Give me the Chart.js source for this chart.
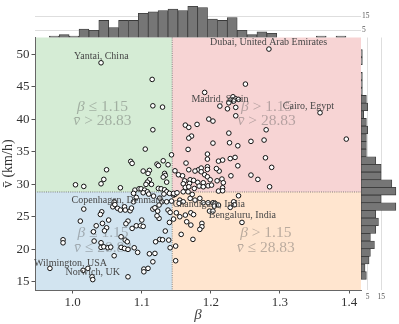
<!DOCTYPE html>
<html><head><meta charset="utf-8">
<script src="https://cdn.jsdelivr.net/npm/chart.js@4.4.1/dist/chart.umd.min.js"></script>
<style>
html,body{margin:0;padding:0;background:#fff;}
#wrap{position:relative;width:399px;height:324px;overflow:hidden;}
#wrap canvas{position:absolute;left:0;top:0;}
</style></head><body>
<div id="wrap">
<canvas id="main" width="399" height="324"></canvas>
<canvas id="topH" width="399" height="324"></canvas>
<canvas id="rightH" width="399" height="324"></canvas>
</div>
<script>
// ---------------- data ----------------
const beta = [
1.041,1.115,1.116,1.130,1.116,1.284,1.250,1.191,1.232,1.236,1.228,1.233,1.240,1.226,1.213,1.224,1.236,1.236,1.358,1.197,
1.203,1.163,1.168,1.180,1.280,1.226,1.172,1.168,1.396,1.258,1.277,1.203,1.227,1.239,1.105,1.167,1.143,1.195,1.195,1.164,
1.228,1.235,1.211,1.217,1.279,1.239,1.288,1.084,1.086,1.049,1.102,1.111,1.109,1.122,1.124,1.131,1.138,1.045,1.041,1.004,
1.016,1.111,1.108,1.114,1.106,1.069,1.090,1.096,1.099,1.104,1.108,1.133,1.134,1.131,1.136,1.124,1.128,1.133,1.136,1.140,
1.146,1.148,
1.148,1.153,1.159,1.168,1.182,1.186,1.195,1.195,1.177,1.186,1.191,1.212,1.208,1.258,1.268,1.229,1.195,1.162,1.160,1.170,
1.169,1.175,1.176,1.181,1.189,1.199,1.209,1.217,1.211,1.217,1.163,1.168,1.183,1.189,1.196,1.201,1.216,1.218,1.285,1.160,
1.167,1.173,
1.016,1.011,1.034,1.043,1.049,1.046,1.052,1.030,1.031,1.041,1.041,1.045,1.051,1.055,1.060,1.070,1.075,1.080,1.070,1.076,
1.079,1.058,1.065,1.069,1.075,1.060,1.061,0.986,0.986,0.967,1.015,1.022,1.028,1.029,1.080,1.083,1.085,1.080,1.077,1.086,
1.092,1.098,1.102,1.100,1.089,1.094,1.111,1.119,1.116,1.103,1.109,1.103,1.116,1.119,1.123,1.125,1.122,1.129,1.125,1.136,
1.138,1.141,1.140,1.134,1.126,1.120,1.130,1.139,1.141,1.088,1.092,1.088,1.102,1.110,1.117,1.126,1.132,1.042,1.040,1.076,
1.146,1.151,1.155,1.154,1.160,1.170,1.177,1.184,1.189,1.196,1.203,1.206,1.211,1.233,1.240,1.228,1.234,1.198,1.203,1.205,
1.150,1.146,1.155,1.163,1.171,1.175,1.187,1.187,1.184,1.171,1.157,1.174,1.245,1.149,1.149,1.143,1.165
];
const speed = [
48.71,46.15,42.09,41.89,38.40,50.82,45.43,44.15,43.48,43.17,42.97,42.82,43.08,42.55,42.05,41.63,41.85,40.55,41.02,40.05,
39.74,39.12,38.77,39.23,38.40,37.89,37.43,37.12,36.97,36.62,36.82,36.35,36.40,35.94,35.43,35.38,34.55,34.66,33.89,33.28,
33.97,34.15,33.58,33.74,34.09,32.86,32.62,33.54,33.23,32.25,32.05,32.15,31.69,33.12,32.89,33.63,33.02,30.77,30.09,29.94,
29.69,30.71,30.35,30.00,30.00,29.48,29.12,29.32,29.32,29.12,28.86,31.69,31.38,31.12,30.35,29.38,29.32,29.17,28.86,28.62,
28.35,28.46,
32.09,31.48,31.32,32.25,32.25,32.51,32.71,32.31,32.05,31.94,31.48,32.05,32.43,31.43,30.77,31.32,31.17,30.55,30.09,30.71,
30.15,30.62,29.38,30.31,30.25,30.71,30.55,29.48,28.97,29.02,29.54,29.63,29.74,29.63,29.78,29.89,30.82,30.25,29.63,28.86,
28.86,28.46,
26.20,24.35,23.63,24.00,23.32,22.86,24.51,22.71,21.28,21.02,20.31,20.40,20.25,20.35,19.02,20.31,20.15,20.00,21.94,21.43,
21.17,26.55,26.31,26.05,26.55,27.32,26.89,21.48,21.01,17.08,16.77,17.08,15.78,15.35,15.78,25.94,26.35,24.35,23.94,23.23,
23.63,23.63,23.54,24.51,20.25,19.54,19.32,19.38,18.09,16.97,17.08,16.55,26.20,26.40,25.89,24.77,25.17,27.32,26.82,27.32,
26.05,25.69,24.15,22.82,21.54,21.17,21.48,21.43,20.25,28.62,28.00,27.32,28.71,28.51,28.20,27.89,28.51,25.78,25.38,26.05,
28.62,28.71,27.58,27.08,27.32,27.85,27.58,27.85,27.17,27.17,27.17,27.08,26.82,27.32,28.25,26.46,26.86,25.89,25.89,26.66,
25.63,24.66,25.02,25.28,25.63,25.35,24.00,23.48,23.08,23.74,22.31,21.54,24.15,20.51,18.25,27.43,24.25
];

// histogram counts
const betaHistStart = 0.9662, betaHistWidth = 0.01431;
const betaHistCounts = [1,2,1,6,5,12,7,12,12,17,18,19,20,19,22,21,13,12,14,5,2,4,3,0,0,0,0,1,0,1];
const speedHistStart = 15.39, speedHistWidth = 1.179;
// listed from lowest speed bin upwards
const speedHistCounts = [4,3,6,7,10,7,11,13,11,26,15,26,23,15,15,11,4,4,4,5,4,2,5,4,1,1,1,0,1,1];

const xTicks = [1.0,1.1,1.2,1.3,1.4];
const yTicks = [15,20,25,30,35,40,45,50];
const histTicks = [5,15];

const betaSplit = 1.144, speedSplit = 28.83;
const xRange = [0.9454, 1.4173];
const yRange = [13.75, 52.6];

const cityNames = ['Yantai, China','Dubai, United Arab Emirates','Madrid, Spain','Cairo, Egypt','Copenhagen, Denmark',
  'Chandigarh, India','Bengaluru, India','Wilmington, USA','Norwich, UK'];
const cityLabelBeta = [1.0414,1.2835,1.2132,1.3411,1.0651,1.1969,1.2455,0.9968,1.0290];
const cityLabelSpeed = [49.63,51.78,43.08,42.00,27.58,26.86,25.17,17.82,16.43];

// each quadrant label: [symbol (italic), rest (upright)] for two lines
const quadLines = [
  [['β',' ≤ 1.15'],['v̄',' > 28.83']],
  [['β',' > 1.15'],['v̄',' > 28.83']],
  [['β',' ≤ 1.15'],['v̄',' ≤ 28.83']],
  [['β',' > 1.15'],['v̄',' ≤ 28.83']]
];
const quadBeta = [1.0431,1.2808,1.0439,1.2795];
const quadSpeed1 = [41.94,41.94,22.55,22.55];
const quadSpeed2 = [39.70,39.70,20.25,20.25];

// ---------------- drawing ----------------
const SERIF = '"Liberation Serif","DejaVu Serif",serif';
Chart.defaults.font.family = SERIF;
Chart.defaults.animation = false;

function mixedText(ctx, parts, cx, cy, size){
  const fI = 'italic '+size+'px '+SERIF, fN = size+'px '+SERIF;
  ctx.font=fI; const w1 = ctx.measureText(parts[0]).width;
  ctx.font=fN; const w2 = ctx.measureText(parts[1]).width;
  let x0 = cx-(w1+w2)/2;
  ctx.textAlign='left';
  ctx.font=fI; ctx.fillText(parts[0], x0, cy);
  ctx.font=fN; ctx.fillText(parts[1], x0+w1, cy);
}

const quadPlugin = {
  id:'quads',
  beforeDraw(chart){
    const {ctx, chartArea:a, scales:{x,y}} = chart;
    const xd = x.getPixelForValue(betaSplit), yd = y.getPixelForValue(speedSplit);
    ctx.save();
    ctx.fillStyle='rgb(213,236,213)'; ctx.fillRect(a.left,a.top,xd-a.left,yd-a.top);
    ctx.fillStyle='rgb(247,212,212)'; ctx.fillRect(xd,a.top,a.right-xd,yd-a.top);
    ctx.fillStyle='rgb(210,228,240)'; ctx.fillRect(a.left,yd,xd-a.left,a.bottom-yd);
    ctx.fillStyle='rgb(255,229,207)'; ctx.fillRect(xd,yd,a.right-xd,a.bottom-yd);
    ctx.strokeStyle='#666'; ctx.lineWidth=0.8; ctx.setLineDash([1,1.2]);
    ctx.beginPath(); ctx.moveTo(xd,a.top); ctx.lineTo(xd,a.bottom); ctx.stroke();
    ctx.beginPath(); ctx.moveTo(a.left,yd); ctx.lineTo(a.right,yd); ctx.stroke();
    ctx.setLineDash([]);
    ctx.fillStyle='rgba(90,90,90,0.42)';
    ctx.textBaseline='middle';
    quadLines.forEach((l,i)=>{
      mixedText(ctx, l[0], x.getPixelForValue(quadBeta[i]), y.getPixelForValue(quadSpeed1[i]), 15.5);
      mixedText(ctx, l[1], x.getPixelForValue(quadBeta[i]), y.getPixelForValue(quadSpeed2[i]), 15.5);
    });
    ctx.restore();
  },
  afterDatasetsDraw(chart){
    const {ctx, scales:{x,y}} = chart;
    ctx.save();
    ctx.font='10px '+SERIF; ctx.fillStyle='#474747'; ctx.textAlign='center'; ctx.textBaseline='middle';
    cityNames.forEach((n,i)=>ctx.fillText(n, x.getPixelForValue(cityLabelBeta[i]), y.getPixelForValue(cityLabelSpeed[i])));
    ctx.restore();
  }
};

new Chart(document.getElementById('main'), {
  type:'scatter',
  data:{datasets:[{
    data: beta.map((b,i)=>({x:b,y:speed[i]})),
    backgroundColor:'#ffffff', borderColor:'#111', borderWidth:1, pointRadius:2.3
  }]},
  options:{
    responsive:false, animation:false,
    layout:{padding:{left:0,top:37.5,right:38,bottom:0}},
    plugins:{legend:{display:false},tooltip:{enabled:false}},
    scales:{
      x:{type:'linear',min:xRange[0],max:xRange[1],
        afterBuildTicks:s=>{s.ticks=xTicks.map(v=>({value:v}));},
        afterFit:s=>{s.height=34;},
        ticks:{font:{size:13},color:'#333',padding:1,callback:v=>Number(v).toFixed(1),maxRotation:0},
        grid:{display:true,drawOnChartArea:false,color:'#555',tickLength:3.5},
        border:{display:true,color:'#666'},
        title:{display:true,text:'β',font:{size:15,style:'italic'},color:'#444',padding:{top:0,bottom:0}}
      },
      y:{type:'linear',min:yRange[0],max:yRange[1],
        afterBuildTicks:s=>{s.ticks=yTicks.map(v=>({value:v}));},
        afterFit:s=>{s.width=35;},
        ticks:{font:{size:13},color:'#333',padding:2},
        grid:{display:true,drawOnChartArea:false,color:'#555',tickLength:3.5},
        border:{display:true,color:'#666'},
        title:{display:true,text:'v̄ (km/h)',font:{size:14},color:'#333',padding:{top:0,bottom:0}}
      }
    }
  },
  plugins:[quadPlugin]
});

const barStyle = {backgroundColor:'#767676', borderColor:'#3a3a3a', borderWidth:0.8,
  barPercentage:1, categoryPercentage:1, borderSkipped:false};

new Chart(document.getElementById('topH'), {
  type:'bar',
  data:{datasets:[Object.assign({
    data: betaHistCounts.map((c,i)=>({x:betaHistStart+betaHistWidth*(i+0.5), y:c})).filter(d=>d.y>0)
  }, barStyle)]},
  options:{
    responsive:false, animation:false,
    layout:{padding:{left:35,top:2.5,right:0,bottom:324-37.5}},
    plugins:{legend:{display:false},tooltip:{enabled:false}},
    scales:{
      x:{type:'linear',min:xRange[0],max:xRange[1],offset:false,display:false,grid:{offset:false}},
      y:{type:'linear',position:'right',min:0,max:22.5,
        afterBuildTicks:s=>{s.ticks=histTicks.map(v=>({value:v}));},
        afterFit:s=>{s.width=38;},
        ticks:{font:{size:7.5},color:'#555',padding:1},
        grid:{color:'#dedede',drawTicks:false},
        border:{display:false}
      }
    }
  }
});

new Chart(document.getElementById('rightH'), {
  type:'bar',
  data:{datasets:[Object.assign({
    data: speedHistCounts.map((c,i)=>({y:speedHistStart+speedHistWidth*(i+0.5), x:c})).filter(d=>d.x>0)
  }, barStyle)]},
  options:{
    indexAxis:'y',
    responsive:false, animation:false,
    layout:{padding:{left:361,top:37.5,right:1.1,bottom:0}},
    plugins:{legend:{display:false},tooltip:{enabled:false}},
    scales:{
      y:{type:'linear',min:yRange[0],max:yRange[1],offset:false,display:false,grid:{offset:false}},
      x:{type:'linear',position:'bottom',min:0,max:27.5,
        afterBuildTicks:s=>{s.ticks=histTicks.map(v=>({value:v}));},
        afterFit:s=>{s.height=34;},
        ticks:{font:{size:7.5},color:'#555',padding:3,maxRotation:0},
        grid:{color:'#dedede',drawTicks:false},
        border:{display:false}
      }
    }
  }
});
</script>
</body></html>
